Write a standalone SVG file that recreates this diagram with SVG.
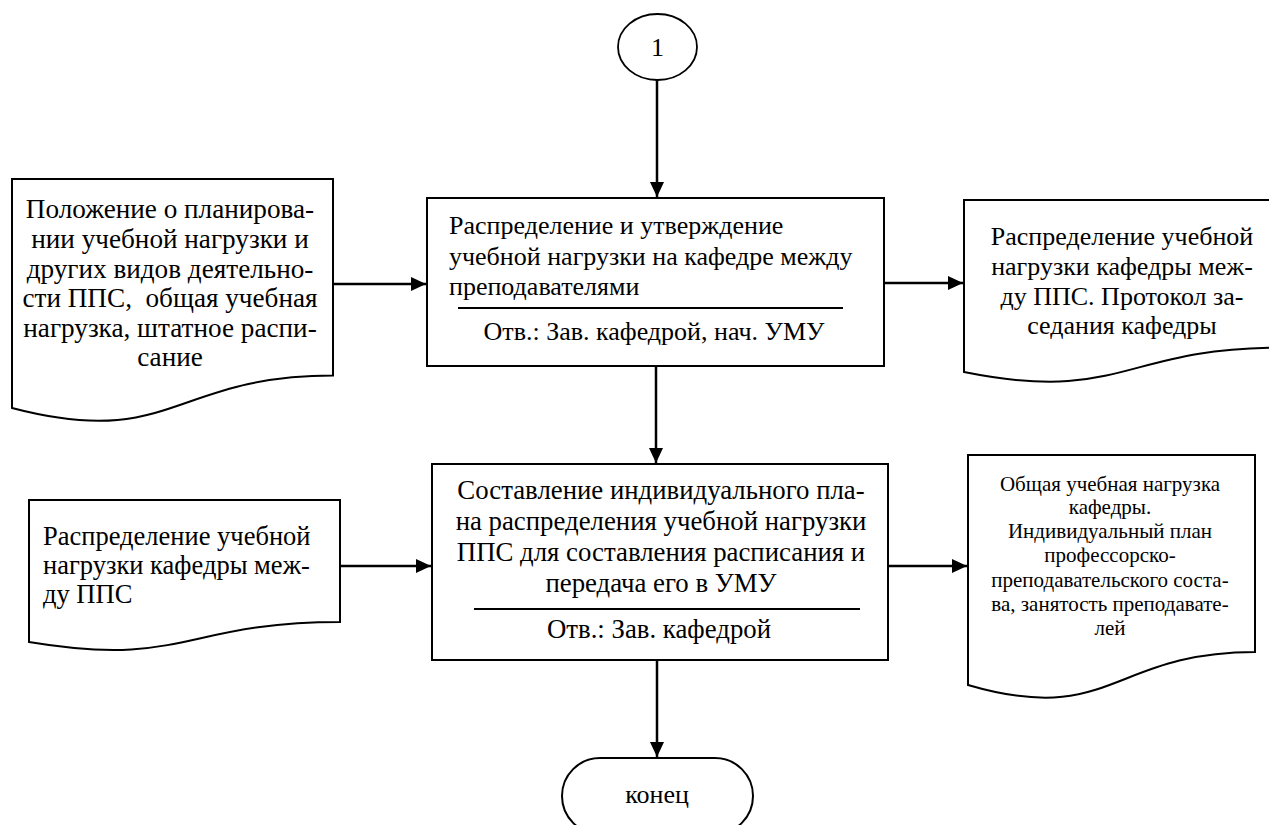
<svg xmlns="http://www.w3.org/2000/svg" width="1269" height="825" viewBox="0 0 1269 825">
<style>
.s{fill:#fff;stroke:#000;stroke-width:2}
.t{font-family:"Liberation Serif","DejaVu Serif",serif;font-size:26px;fill:#000}
.m{text-anchor:middle}
.sm{font-size:21px}
.lg{font-size:27.2px}
.md{font-size:26.8px}
.c{fill:none;stroke:#000;stroke-width:2.5}
.sep{stroke:#000;stroke-width:2}
</style>
<defs>
<marker id="ah" markerUnits="userSpaceOnUse" markerWidth="16" markerHeight="14" refX="15" refY="7" orient="auto">
<path d="M0,0 L15,7 L0,14 Z" fill="#000"/>
</marker>
</defs>
<rect width="1269" height="825" fill="#fff"/>
<g id="connectors">
<line class="c" x1="657" y1="80" x2="657" y2="197" marker-end="url(#ah)"/>
<line class="c" x1="333" y1="284" x2="426" y2="284" marker-end="url(#ah)"/>
<line class="c" x1="884" y1="283" x2="963" y2="283" marker-end="url(#ah)"/>
<line class="c" x1="656" y1="366" x2="656" y2="463" marker-end="url(#ah)"/>
<line class="c" x1="340" y1="566" x2="431" y2="566" marker-end="url(#ah)"/>
<line class="c" x1="888" y1="566" x2="967" y2="566" marker-end="url(#ah)"/>
<line class="c" x1="657" y1="660" x2="657" y2="757" marker-end="url(#ah)"/>
</g>
<g id="start">
<ellipse cx="657.5" cy="47" rx="39.5" ry="33" fill="#fff" stroke="#000" stroke-width="1.8"/>
<text class="t m" x="657.5" y="56">1</text>
</g>
<g id="doc-left-1">
<path class="s" d="M12,179 H333 V375.5 C172.5,375.5 172.5,450 12,408 Z"/>
<text class="t m lg" x="170"><tspan x="170" y="218">Положение о планирова-</tspan><tspan x="170" y="248">нии учебной нагрузки и</tspan><tspan x="170" y="278">других видов деятельно-</tspan><tspan x="170" y="307">сти ППС,&#160; общая учебная</tspan><tspan x="170" y="337">нагрузка, штатное распи-</tspan><tspan x="170" y="366">сание</tspan></text>
</g>
<g id="proc-1">
<rect class="s" x="427" y="198" width="457" height="168"/>
<text class="t"><tspan x="449" y="234">Распределение и утверждение</tspan><tspan x="449" y="265">учебной нагрузки на кафедре между</tspan><tspan x="449" y="295">преподавателями</tspan></text>
<line class="sep" x1="458" y1="308" x2="843" y2="308"/>
<text class="t m" x="654" y="340">Отв.: Зав. кафедрой, нач. УМУ</text>
</g>
<g id="doc-right-1">
<path class="s" d="M964,200 H1281 V347.6 C1122.5,347.6 1122.5,403.8 964,372 Z"/>
<text class="t m"><tspan x="1122" y="245">Распределение учебной</tspan><tspan x="1122" y="275">нагрузки кафедры меж-</tspan><tspan x="1122" y="305">ду ППС. Протокол за-</tspan><tspan x="1122" y="334">седания кафедры</tspan></text>
</g>
<g id="doc-left-2">
<path class="s" d="M29,500 H340 V622 C184.5,622 184.5,668 29,642 Z"/>
<text class="t" style="font-size:26.5px"><tspan x="43" y="545">Распределение учебной</tspan><tspan x="43" y="574">нагрузки кафедры меж-</tspan><tspan x="43" y="603">ду ППС</tspan></text>
</g>
<g id="proc-2">
<rect class="s" x="432" y="464" width="456" height="196"/>
<text class="t m md"><tspan x="661" y="499">Составление индивидуального пла-</tspan><tspan x="661" y="530">на распределения учебной нагрузки</tspan><tspan x="661" y="561">ППС для составления расписания и</tspan><tspan x="661" y="592">передача его в УМУ</tspan></text>
<line class="sep" x1="474" y1="609" x2="860" y2="609"/>
<text class="t m md" x="659" y="638">Отв.: Зав. кафедрой</text>
</g>
<g id="doc-right-2">
<path class="s" d="M968,455 H1255 V652 C1111.5,652 1111.5,727 968,685 Z"/>
<text class="t m sm"><tspan x="1110" y="491">Общая учебная нагрузка</tspan><tspan x="1110" y="514">кафедры.</tspan><tspan x="1110" y="538">Индивидуальный план</tspan><tspan x="1110" y="562">профессорско-</tspan><tspan x="1110" y="587">преподавательского соста-</tspan><tspan x="1110" y="611">ва, занятость преподавате-</tspan><tspan x="1110" y="635">лей</tspan></text>
</g>
<g id="end">
<rect class="s" x="562" y="758" width="191" height="76" rx="38" ry="38"/>
<text class="t m" x="657" y="803">конец</text>
</g>
</svg>
